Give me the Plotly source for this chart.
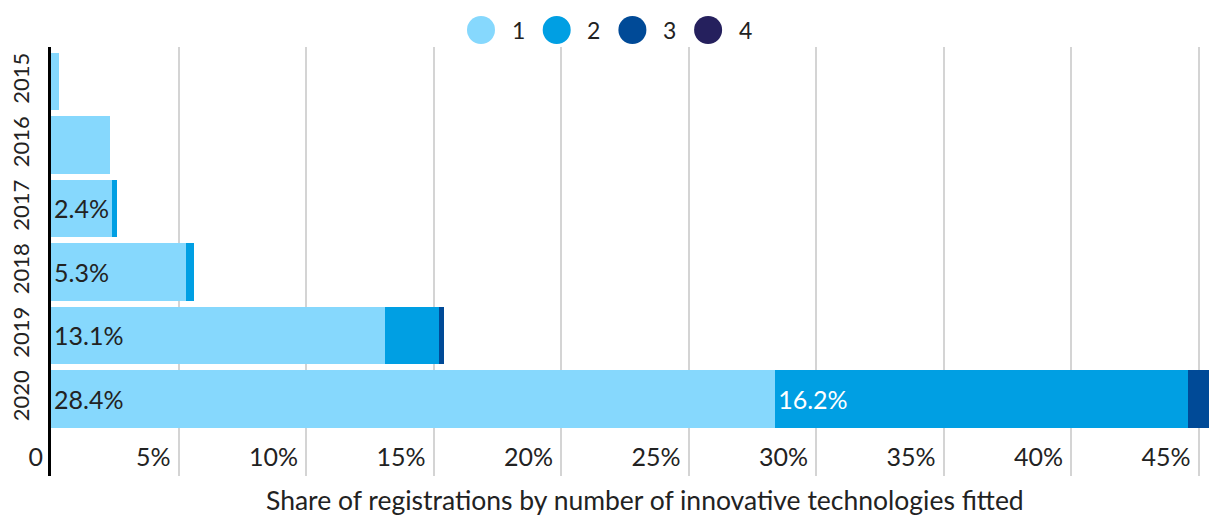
import plotly.graph_objects as go

years = ["2015", "2016", "2017", "2018", "2019", "2020"]
series_names = ["1", "2", "3", "4"]
tech1 = [0.3, 2.3, 2.4, 5.3, 13.1, 28.4]
tech2 = [0.0, 0.0, 0.2, 0.3, 2.1, 16.2]
tech3 = [0.0, 0.0, 0.0, 0.0, 0.2, 1.6]
tech4 = [0.0, 0.0, 0.0, 0.0, 0.0, 0.3]
labels1 = ["", "", "2.4%", "5.3%", "13.1%", "28.4%"]
labels2 = ["", "", "", "", "", "16.2%"]
labels3 = ["", "", "", "", "", ""]
labels4 = ["", "", "", "", "", ""]
xticks = [0, 5, 10, 15, 20, 25, 30, 35, 40, 45]
xticklabels = ["0", "5%", "10%", "15%", "20%", "25%", "30%", "35%", "40%", "45%"]
colors = ["#86d8fd", "#009fe3", "#004a97", "#25205d"]
text_colors = ["#222222", "#ffffff", "#ffffff", "#ffffff"]

FONT = "Lato"
W, H = 1209, 516
ML, MR, MT, MB = 51, 0, 47, 40
PW = W - ML - MR
PH = H - MT - MB

fig = go.Figure()
for vals, labs, name, col, tcol in zip([tech1, tech2, tech3, tech4],
                                       [labels1, labels2, labels3, labels4],
                                       series_names, colors, text_colors):
    fig.add_trace(go.Bar(
        y=years, x=vals, orientation="h", name=name,
        marker=dict(color=col, line=dict(width=0)),
        text=labs, textposition="inside", insidetextanchor="start",
        textangle=0, constraintext="none",
        textfont=dict(family=FONT, size=25, color=tcol),
        showlegend=False, hoverinfo="x+name",
    ))

# custom legend (large circles)
leg_x0, leg_dx, leg_y = 481, 75.7, 30
shapes = []
annotations = []
for i, (name, col) in enumerate(zip(series_names, colors)):
    cx = leg_x0 + i * leg_dx
    shapes.append(dict(type="circle", xref="paper", yref="paper",
                       xsizemode="pixel", ysizemode="pixel",
                       xanchor=(cx - ML) / PW, yanchor=(MT + PH - leg_y) / PH,
                       x0=-14, x1=14, y0=-14, y1=14,
                       fillcolor=col, line=dict(width=0)))
    annotations.append(dict(xref="paper", yref="paper",
                            x=(cx + 37 - ML) / PW, y=(MT + PH - leg_y) / PH,
                            text=name, showarrow=False, xanchor="center", yanchor="middle",
                            font=dict(family=FONT, size=23, color="#222222")))

annotations.append(dict(xref="paper", yref="paper",
                        x=(645 - ML) / PW, y=(MT + PH - 500) / PH,
                        text="Share of registrations by number of innovative technologies fitted",
                        showarrow=False, xanchor="center", yanchor="middle",
                        font=dict(family=FONT, size=26.5, color="#222222")))

fig.update_layout(
    width=W, height=H,
    margin=dict(l=ML, r=MR, t=MT, b=MB, pad=0, autoexpand=False),
    barmode="stack", bargap=0.1,
    plot_bgcolor="white", paper_bgcolor="white",
    font=dict(family=FONT, size=22, color="#222222"),
    shapes=shapes, annotations=annotations,
    showlegend=False,
)
fig.update_xaxes(
    automargin=False,
    range=[0, PW / 25.5], tickvals=xticks, ticktext=xticklabels,
    showgrid=True, gridcolor="#d4d4d4", gridwidth=1.5,
    zeroline=False, showline=False,
    ticklabelposition="inside left", ticklabeloverflow="allow",
    ticks="", tickfont=dict(family=FONT, size=25, color="#222222"),
    ticklabelstandoff=-1, ticklabelshift=-8,
)
fig.update_yaxes(
    automargin=False,
    categoryorder="array", categoryarray=years,
    range=[6.213, -0.543],
    showgrid=False, zeroline=False,
    showline=True, linecolor="black", linewidth=3,
    tickangle=-90, ticks="", ticklabelstandoff=10,
    tickfont=dict(family=FONT, size=22, color="#222222"),
)
fig.write_html("out.html", config={"displayModeBar": False},
               post_script="document.body.style.margin='0';document.body.style.overflow='hidden';")
